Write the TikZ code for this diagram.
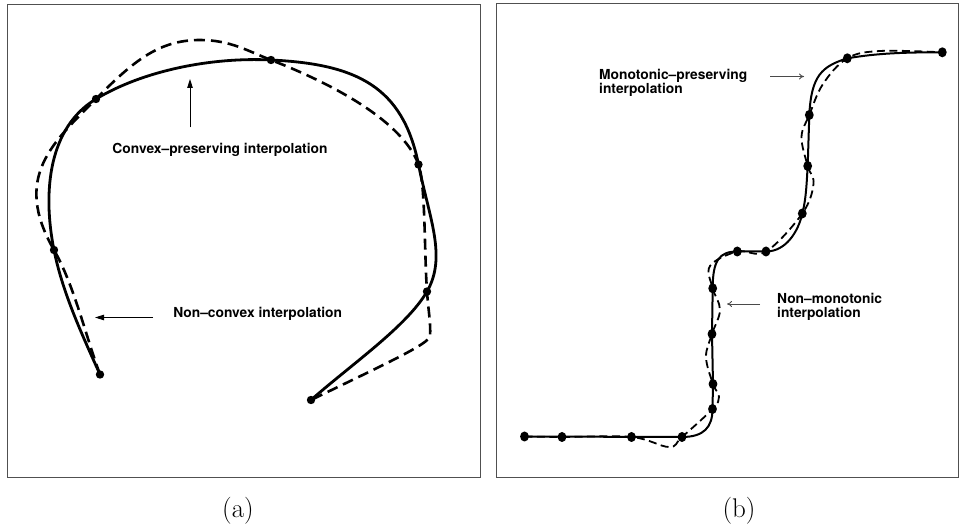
\documentclass[tikz,border=0pt]{standalone}
\usepackage{fontspec}
\setsansfont{TeX Gyre Heros}
\usetikzlibrary{arrows.meta}
\definecolor{framegray}{HTML}{505050}
\definecolor{notegray}{HTML}{4a4a4a}
\tikzset{
  panel/.style={draw=framegray, line width=0.9pt},
  note/.style={font=\sffamily\bfseries\fontsize{13.8}{14.5}\selectfont, inner sep=0pt, align=left},
  caption/.style={font=\fontsize{27}{30}\selectfont, inner sep=0pt},
  curvea/.style={line width=2.8pt, line join=round},
  dasheda/.style={line width=2.6pt, dash pattern=on 11pt off 6pt},
  curveb/.style={line width=2pt, line join=round},
  dashedb/.style={line width=1.8pt, dash pattern=on 8pt off 4.5pt},
  pointera/.style={line width=0.9pt, -{Triangle[length=9pt,width=5.5pt]}},
  pointerb/.style={line width=0.8pt, draw=notegray, -{To[length=5pt,width=6pt]}}
}

\begin{document}
\begin{tikzpicture}[x=1pt, y=-1pt]
    \useasboundingbox (0,0) rectangle (962,529);
    \draw[panel] (7.3,4) rectangle (480.7,477.3);
    \draw[panel] (496,3.5) rectangle (958.5,477.3);

    \coordinate (a1) at (100,374.5);
    \coordinate (a2) at (54,250);
    \coordinate (a3) at (96,99);
    \coordinate (a4) at (271,60);
    \coordinate (a5) at (418.5,164.5);
    \coordinate (a6) at (427,291.5);
    \coordinate (a7) at (311,400);

    \draw[curvea] (a1) .. controls +(-18,-40) and +(8.6,43) .. (a2)
      .. controls +(-11.8,-58.8) and +(-47.1,28.3) .. (a3)
      .. controls +(47.1,-28.3) and +(-60,-3) .. (a4)
      .. controls +(85,4) and +(-15.7,-78.4) .. (a5)
      .. controls +(10.8,53.9) and +(20,-34.6) .. (a6)
      .. controls +(-20,34.6) and +(41.3,-36.3) .. (a7);
    \draw[dasheda] (a1) .. controls +(-14,-37.5) and +(20,34.6) .. (a2)
      .. controls +(-42.5,-73.6) and +(-42,42.8) .. (a3)
      .. controls +(38.5,-39.3) and +(-40,0) .. (200,40)
      .. controls +(30,0) and +(-23.3,-9) .. (a4)
      .. controls +(51.2,19.8) and +(-17.5,-47) .. (a5)
      .. controls +(7,18.8) and +(-2.8,-40) .. (a6)
      .. controls +(1.4,20) and +(1,-12) .. (430,336)
      .. controls +(-0.7,8) and +(72,-35) .. (a7);
    \foreach \p in {a1,a2,a3,a4,a5,a6,a7} \fill (\p) circle (4.2pt);

    \node[note] (cvxlbl) at (220,150) {Convex–preserving interpolation};
    \coordinate (cvxtail) at (190,127.5);
    \coordinate (cvxtip) at (190,79);
    \draw[pointera] (cvxtail) -- (cvxtip);
    \node[note] (ncvxlbl) at (257.7,313.5) {Non–convex interpolation};
    \coordinate (ncvxtail) at (153,317.5);
    \coordinate (ncvxtip) at (95,317.5);
    \draw[pointera] (ncvxtail) -- (ncvxtip);

    \coordinate (b1) at (524.5,436.5);
    \coordinate (b2) at (562,437);
    \coordinate (b3) at (631.5,437);
    \coordinate (b4) at (682,437);
    \coordinate (b5) at (712.5,409);
    \coordinate (b6) at (713,384);
    \coordinate (b7) at (712,334);
    \coordinate (b8) at (712.7,288.3);
    \coordinate (b9) at (737.3,251.5);
    \coordinate (b10) at (766,251.5);
    \coordinate (b11) at (802.3,213.5);
    \coordinate (b12) at (807.7,166);
    \coordinate (b13) at (809.3,115);
    \coordinate (b14) at (847.3,58.3);
    \coordinate (b15) at (942.3,52.3);

    \draw[curveb] (b1) -- (b4) .. controls +(22,0) and +(0,18) .. (b5) -- (b6) -- (b7) -- (b8)
      .. controls +(0,-28) and +(-18,0) .. (b9) -- (b10)
      .. controls +(20,0) and +(-4,18) .. (b11) .. controls +(4,-15) and +(-1,15) .. (b12) -- (b13)
      .. controls +(2,-40) and +(-25,8) .. (b14) .. controls +(30,-5) and +(-40,0) .. (b15);
    \draw[dashedb] plot[smooth, tension=0.6] coordinates {(b1) (b2) (b3) (669,447) (b4) (b5) (719,397) (b6)
      (706,357) (b7) (720,310) (b8) (710,266) (b9) (b10) (b11) (813.5,184) (b12) (801.5,137)
      (b13) (823,84) (b14) (880,51) (b15)};
    \foreach \p in {b1,b2,b3,b4,b5,b6,b7,b8,b9,b10,b11,b12,b13,b14,b15}
      \fill (\p) ellipse (4.4pt and 5pt);

    \node[note, anchor=west] (monolbl) at (599,83) {Monotonic–preserving\\interpolation};
    \coordinate (monotail) at (770,76.5);
    \coordinate (monotip) at (804,76.5);
    \draw[pointerb] (monotail) -- (monotip);
    \node[note, anchor=west] (nmonolbl) at (777,307) {Non–monotonic\\interpolation};
    \coordinate (nmonotail) at (760,304);
    \coordinate (nmonotip) at (727,304);
    \draw[pointerb] (nmonotail) -- (nmonotip);

    \node[caption] (capa) at (238,511) {(a)};
    \node[caption] (capb) at (739,511) {(b)};
  \end{tikzpicture}
\end{document}
